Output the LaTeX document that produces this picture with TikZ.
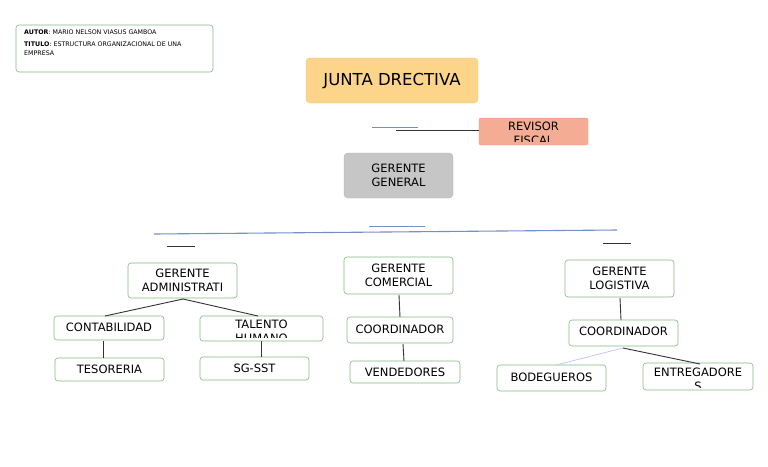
\documentclass[tikz,border=0pt]{standalone}
\usepackage{fontspec}
\setmainfont{DejaVu Sans}
\definecolor{jun}{HTML}{FDD58A}
\definecolor{junb}{HTML}{F2C46E}
\definecolor{rev}{HTML}{F5AC94}
\definecolor{revb}{HTML}{E8967C}
\definecolor{lnb}{HTML}{7391C8}
\begin{document}
\begin{tikzpicture}[x=1pt,y=-1pt,
 box/.style={draw=green!45!black!50, rounded corners=3pt, line width=0.6pt, fill=white},
 lbl/.style={font=\fontsize{11.5}{13.5}\selectfont, align=center, inner sep=0},
 ln/.style={line width=0.9pt, black!80}]
\useasboundingbox (0,0) rectangle (768,466);
% author
\draw[box] (16,25) rectangle (213,72);
\node[anchor=north west, font=\fontsize{6.3}{9}\selectfont, align=left, inner sep=0] (aut) at (24,30)
 {\textbf{AUTOR}: MARIO NELSON VIASUS GAMBOA\\[3pt]\textbf{TITULO}: ESTRUCTURA ORGANIZACIONAL DE UNA\\EMPRESA};
% junta
\draw[rounded corners=4pt, fill=jun, draw=junb] (306,58) rectangle (478,103);
\node[font=\fontsize{16.5}{18}\selectfont, inner sep=0] (jd) at (392,81) {JUNTA DRECTIVA};
% revisor
\draw[draw=revb, fill=rev, rounded corners=2pt] (479,118) rectangle (588,145);
\begin{scope}\clip (479,118) rectangle (588,141);
\node[lbl, anchor=north] (rf) at (533.5,122) {REVISOR\\FISCAL};
\end{scope}
\coordinate (b1) at (372,127); \coordinate (b2) at (418,127);
\draw[lnb, line width=0.8pt] (b1) -- (b2);
\coordinate (r1) at (396,130); \coordinate (r2) at (479,130);
\draw[ln] (r1) -- (r2);
% gerente general
\draw[rounded corners=4pt, fill=gray!45, draw=gray!60] (344,153) rectangle (453,198);
\node[lbl] (gg) at (398.5,175.5) {GERENTE\\GENERAL};
\coordinate (c1) at (369,226); \coordinate (c2) at (425,226);
\draw[lnb, line width=0.8pt] (c1) -- (c2);
\coordinate (l1) at (154,234); \coordinate (l2) at (617,230);
\draw[lnb, line width=1.1pt] (l1) -- (l2);
\coordinate (k1) at (167,246); \coordinate (k2) at (195,246);
\coordinate (k3) at (603,243); \coordinate (k4) at (631,243);
\draw[ln] (k1) -- (k2); \draw[ln] (k3) -- (k4);
% gerentes
\draw[box] (128,263) rectangle (237,298);
\node[lbl] (ga) at (182.5,280.5) {GERENTE\\ADMINISTRATI};
\draw[box] (344,257) rectangle (453,294);
\node[lbl] (gc) at (398.5,275.5) {GERENTE\\COMERCIAL};
\draw[box] (565,260) rectangle (674,297);
\node[lbl] (gl) at (619.5,278.5) {GERENTE\\LOGISTIVA};
% level 2
\draw[box] (54,316) rectangle (164,340);
\node[lbl] (co) at (109,327) {CONTABILIDAD};
\draw[box] (200,316) rectangle (323,341);
\begin{scope}\clip (200,316) rectangle (323,337);
\node[lbl, anchor=north] (th) at (261.5,320) {TALENTO\\HUMANO};
\end{scope}
\draw[box] (347,317) rectangle (453,343);
\node[lbl] (cc) at (400,329) {COORDINADOR};
\draw[box] (569,320) rectangle (678,346);
\node[lbl] (cl) at (623.5,331) {COORDINADOR};
% level 3
\draw[box] (55,358) rectangle (164,381);
\node[lbl] (te) at (109.5,369.5) {TESORERIA};
\draw[box] (200,357) rectangle (309,380);
\node[lbl] (sg) at (254.5,368.5) {SG-SST};
\draw[box] (350,361) rectangle (460,383);
\node[lbl] (ve) at (405,372) {VENDEDORES};
\draw[box] (497,365) rectangle (606,391);
\node[lbl] (bo) at (551.5,377) {BODEGUEROS};
\draw[box] (643,363) rectangle (753,390);
\begin{scope}\clip (643,363) rectangle (753,387);
\node[lbl, anchor=north] (en) at (698,368) {ENTREGADORE\\S};
\end{scope}
% connectors
\coordinate (ga0) at (183,299); \coordinate (co0) at (105,316); \coordinate (th0) at (258,316);
\draw[ln] (ga0) -- (co0); \draw[ln] (ga0) -- (th0);
\coordinate (t1) at (103,341); \coordinate (t2) at (103,358);
\draw[ln] (t1) -- (t2);
\coordinate (s1) at (261,341); \coordinate (s2) at (261,357);
\draw[ln] (s1) -- (s2);
\coordinate (m1) at (399,295); \coordinate (m2) at (400,317);
\draw[ln] (m1) -- (m2);
\coordinate (m3) at (403,344); \coordinate (m4) at (404,361);
\draw[ln] (m3) -- (m4);
\coordinate (g1) at (620,298); \coordinate (g2) at (621,320);
\draw[ln] (g1) -- (g2);
\coordinate (q0) at (623,348); \coordinate (q1) at (556,365); \coordinate (q2) at (700,364);
\draw[blue!25, line width=0.7pt] (q0) -- (q1);
\draw[ln] (q0) -- (q2);
\end{tikzpicture}
\end{document}
